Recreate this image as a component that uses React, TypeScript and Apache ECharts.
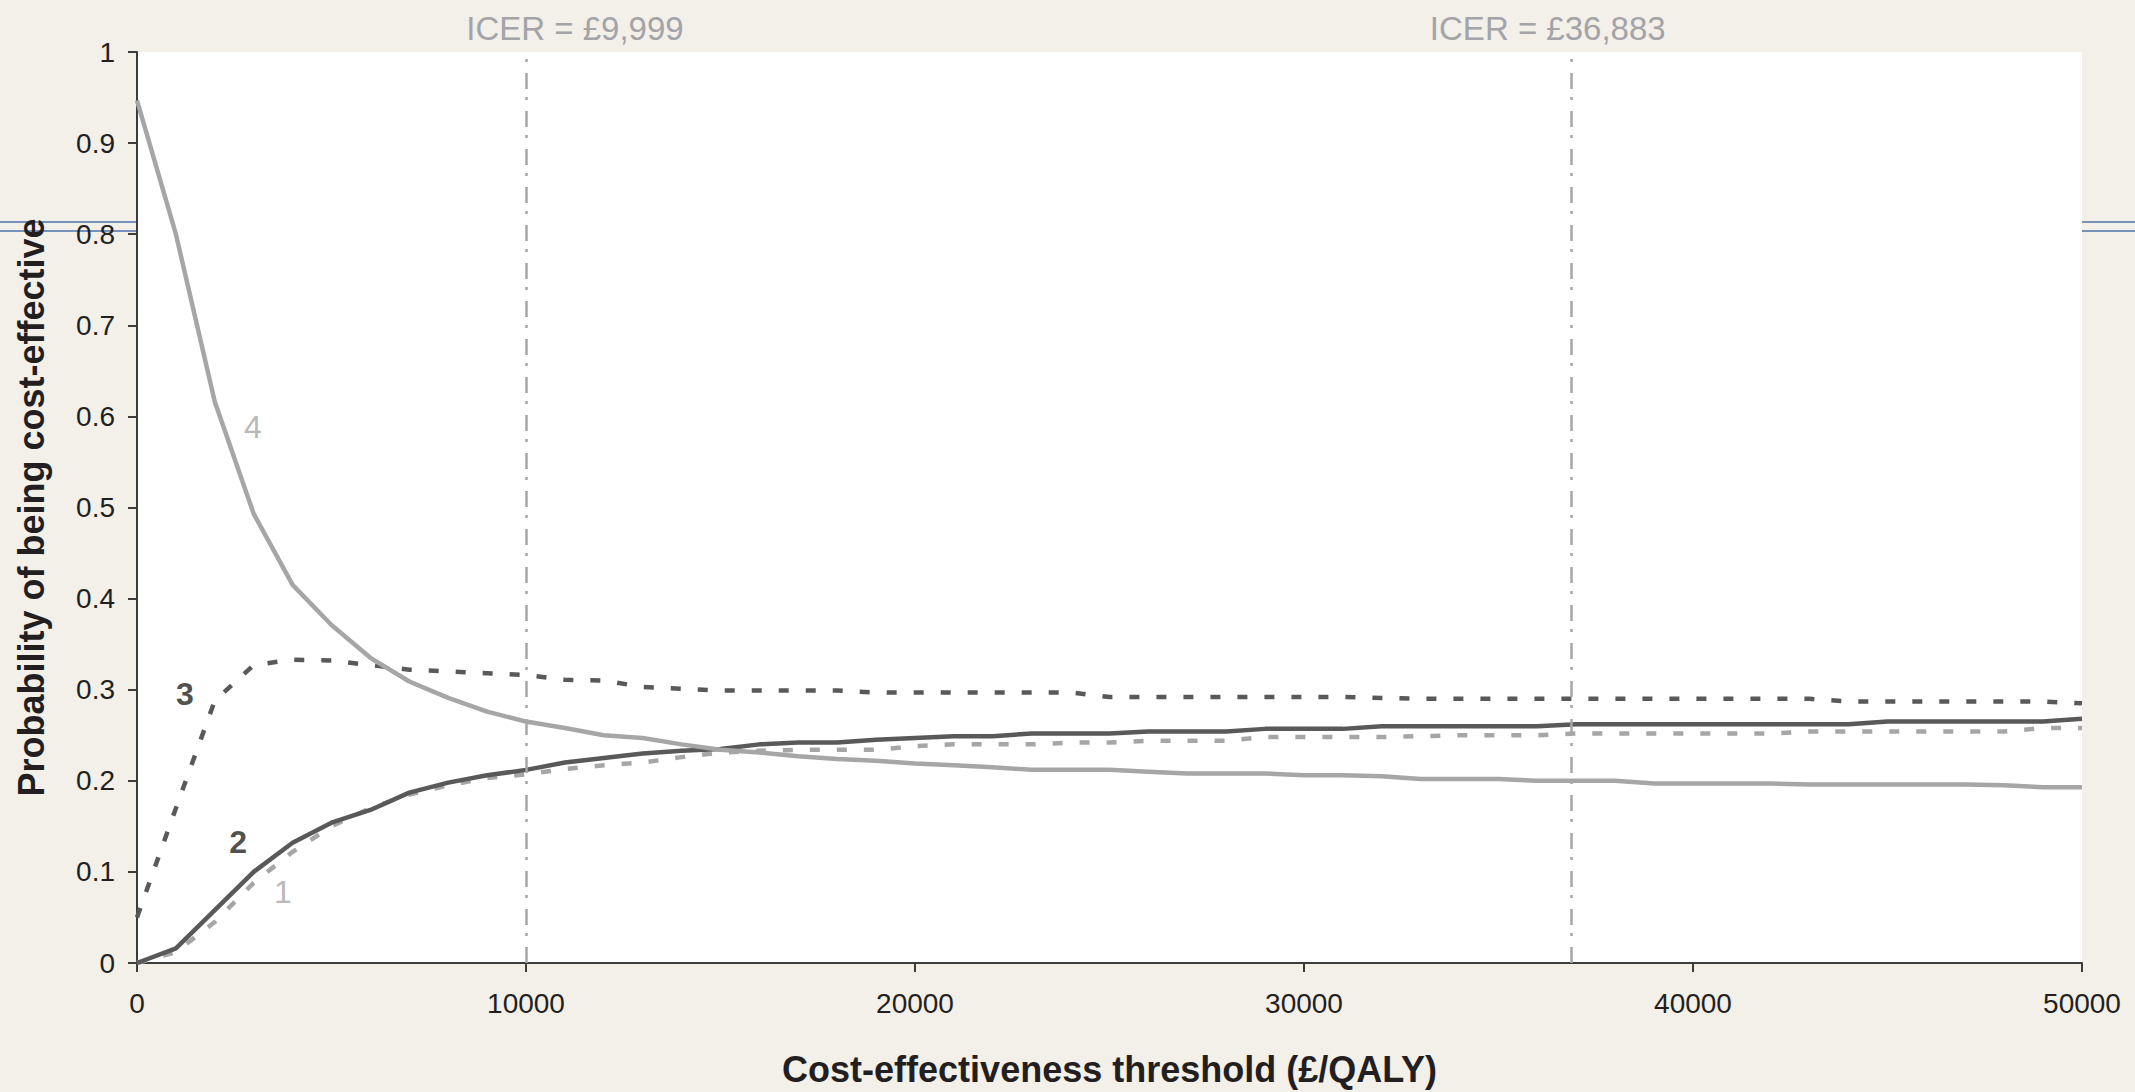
import React, { useEffect, useRef } from "react";
import * as echarts from "echarts";

const THRESHOLDS = [
  0, 1000, 2000, 3000, 4000, 5000, 6000, 7000, 8000, 9000,
  10000, 11000, 12000, 13000, 14000, 15000, 16000, 17000, 18000, 19000,
  20000, 21000, 22000, 23000, 24000, 25000, 26000, 27000, 28000, 29000,
  30000, 31000, 32000, 33000, 34000, 35000, 36000, 37000, 38000, 39000,
  40000, 41000, 42000, 43000, 44000, 45000, 46000, 47000, 48000, 49000, 50000,
];

const CURVE_1 = [
  0.0, 0.012, 0.045, 0.088, 0.122, 0.15, 0.17, 0.185, 0.195, 0.203,
  0.207, 0.213, 0.217, 0.22, 0.226, 0.231, 0.233, 0.234, 0.234, 0.234,
  0.238, 0.24, 0.24, 0.24, 0.242, 0.242, 0.244, 0.244, 0.244, 0.248,
  0.248, 0.248, 0.248, 0.249, 0.25, 0.25, 0.25, 0.252, 0.252, 0.252,
  0.252, 0.252, 0.252, 0.254, 0.254, 0.254, 0.254, 0.254, 0.254, 0.258, 0.258,
];

const CURVE_2 = [
  0.0, 0.016, 0.058, 0.1, 0.132, 0.154, 0.168, 0.187, 0.198, 0.206,
  0.212, 0.22, 0.225, 0.23, 0.233, 0.235, 0.24, 0.242, 0.242, 0.245,
  0.247, 0.249, 0.249, 0.252, 0.252, 0.252, 0.254, 0.254, 0.254, 0.257,
  0.257, 0.257, 0.26, 0.26, 0.26, 0.26, 0.26, 0.262, 0.262, 0.262,
  0.262, 0.262, 0.262, 0.262, 0.262, 0.265, 0.265, 0.265, 0.265, 0.265, 0.268,
];

const CURVE_3 = [
  0.05, 0.17, 0.288, 0.327, 0.333, 0.332, 0.327, 0.322, 0.32, 0.318,
  0.316, 0.311, 0.31, 0.303, 0.301, 0.299, 0.299, 0.299, 0.299, 0.297,
  0.297, 0.297, 0.297, 0.297, 0.297, 0.292, 0.292, 0.292, 0.292, 0.292,
  0.292, 0.292, 0.291, 0.29, 0.29, 0.29, 0.29, 0.29, 0.29, 0.29,
  0.29, 0.29, 0.29, 0.29, 0.287, 0.287, 0.287, 0.287, 0.287, 0.287, 0.285,
];

const CURVE_4 = [
  0.947, 0.8, 0.616, 0.493, 0.415, 0.371, 0.335, 0.309, 0.291, 0.276,
  0.265, 0.258, 0.25, 0.247, 0.24, 0.234, 0.231, 0.227, 0.224, 0.222,
  0.219, 0.217, 0.215, 0.212, 0.212, 0.212, 0.21, 0.208, 0.208, 0.208,
  0.206, 0.206, 0.205, 0.202, 0.202, 0.202, 0.2, 0.2, 0.2, 0.197,
  0.197, 0.197, 0.197, 0.196, 0.196, 0.196, 0.196, 0.196, 0.195, 0.193, 0.193,
];

const ICER_VALUES = [9999, 36883];
const ICER_LABELS = ["ICER = £9,999", "ICER = £36,883"];

const CURVE_LABEL_TEXT = ["4", "3", "2", "1"];
const CURVE_LABEL_X = [2980, 1230, 2600, 3750];
const CURVE_LABEL_Y = [0.588, 0.295, 0.133, 0.078];
const CURVE_LABEL_BOLD = [false, true, true, false];

const X_TITLE = "Cost-effectiveness threshold (£/QALY)";
const Y_TITLE = "Probability of being cost-effective";

const FONT = "'Liberation Sans', Arial, Helvetica, sans-serif";
const LIGHT = "#a6a6a6";
const DARK = "#595959";
const INK = "#231f20";
const AXIS = "#3c3c3c";
const PAGE_BG = "#f3f0ea";
const BLUE = "#7692bb";

export default function App() {
  const ref = useRef<HTMLDivElement>(null);

  useEffect(() => {
    const chart = echarts.init(ref.current as HTMLDivElement, null, { renderer: "svg" });
    const pair = (ys: number[]) => THRESHOLDS.map((x, i) => [x, ys[i]]);
    const lineSeries = (name: string, ys: number[], color: string, type: any) => ({
      name,
      type: "line",
      data: pair(ys),
      symbol: "none",
      showSymbol: false,
      smooth: false,
      silent: true,
      lineStyle: { color, width: 4.5, type, cap: "butt", join: "round" },
      z: 3,
    });

    const axisCommon = {
      axisLine: { show: true, lineStyle: { color: AXIS, width: 2 } },
      axisTick: { show: true, inside: false, length: 9, lineStyle: { color: AXIS, width: 2 } },
      splitLine: { show: false },
      axisLabel: { color: INK, fontSize: 28, fontFamily: FONT, formatter: (v: number) => String(v) },
      nameTextStyle: { color: INK, fontSize: 36, fontWeight: "bold", fontFamily: FONT },
    };

    const option: any = {
      animation: false,
      backgroundColor: PAGE_BG,
      grid: {
        left: 137,
        right: 53,
        top: 52,
        bottom: 122,
        show: true,
        backgroundColor: "#ffffff",
        borderWidth: 0,
      },
      xAxis: {
        type: "value",
        min: 0,
        max: 50000,
        interval: 10000,
        ...axisCommon,
        axisLabel: { ...axisCommon.axisLabel, margin: 26 },
        name: X_TITLE,
        nameLocation: "middle",
        nameGap: 88,
      },
      yAxis: {
        type: "value",
        min: 0,
        max: 1,
        interval: 0.1,
        ...axisCommon,
        axisLabel: { ...axisCommon.axisLabel, margin: 22 },
        name: Y_TITLE,
        nameLocation: "middle",
        nameRotate: 90,
        nameGap: 88,
      },
      series: [
        lineSeries("1", CURVE_1, LIGHT, [10, 17]),
        {
          ...lineSeries("2", CURVE_2, DARK, "solid"),
          markLine: {
            silent: true,
            symbol: ["none", "none"],
            label: { show: false },
            lineStyle: { color: LIGHT, width: 2.5, type: [16, 11, 3, 8] },
            data: ICER_VALUES.map((v) => ({ xAxis: v })),
          },
        },
        lineSeries("3", CURVE_3, DARK, [10, 17]),
        lineSeries("4", CURVE_4, LIGHT, "solid"),
        {
          type: "scatter",
          symbolSize: 0,
          silent: true,
          z: 5,
          data: CURVE_LABEL_TEXT.map((t, i) => ({
            value: [CURVE_LABEL_X[i], CURVE_LABEL_Y[i]],
            label: {
              show: true,
              position: "inside",
              formatter: t,
              fontSize: 32,
              fontFamily: FONT,
              fontWeight: CURVE_LABEL_BOLD[i] ? "bold" : "normal",
              color: CURVE_LABEL_BOLD[i] ? INK : LIGHT,
            },
          })),
        },
      ],
    };
    chart.setOption(option);

    const icerOffsets = [49, -24];
    const icerTexts = ICER_VALUES.map((v, i) => {
      const p = chart.convertToPixel({ gridIndex: 0 }, [v, 1]) as number[];
      return {
        type: "text",
        x: p[0] + icerOffsets[i],
        y: p[1] - 24,
        silent: true,
        style: {
          text: ICER_LABELS[i],
          fill: "#a3a3a8",
          font: `33px ${FONT}`,
          align: "center",
          verticalAlign: "middle",
        },
      };
    });
    const blueLines = [222, 231].flatMap((y) => [
      { type: "line", silent: true, shape: { x1: 0, y1: y, x2: 137, y2: y }, style: { stroke: BLUE, lineWidth: 2 } },
      { type: "line", silent: true, shape: { x1: 2082, y1: y, x2: 2135, y2: y }, style: { stroke: BLUE, lineWidth: 2 } },
    ]);
    chart.setOption({ graphic: [...blueLines, ...icerTexts] });

    return () => chart.dispose();
  }, []);

  return (
    <div
      ref={ref}
      style={{ position: "absolute", left: 0, top: 0, width: 2135, height: 1092 }}
    />
  );
}
